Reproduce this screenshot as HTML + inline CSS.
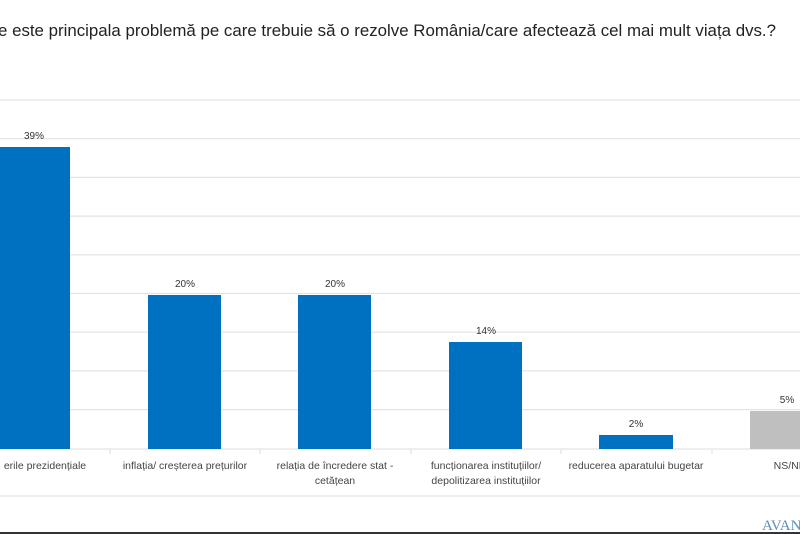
<!DOCTYPE html>
<html><head><meta charset="utf-8"><style>
html,body{margin:0;padding:0;background:#fff;}
svg{display:block;font-family:"Liberation Sans",sans-serif;}
</style></head><body>
<svg width="800" height="534" viewBox="0 0 800 534" xmlns="http://www.w3.org/2000/svg">
<rect width="800" height="534" fill="#fff"/>
<text x="-2" y="36" font-size="17" fill="#222" textLength="778" lengthAdjust="spacingAndGlyphs">e este principala problemă pe care trebuie să o rezolve România/care afectează cel mai mult viața dvs.?</text>
<g stroke="#e3e3e3" stroke-width="1.2">
<line x1="0" y1="100" x2="800" y2="100"/>
<line x1="0" y1="138.7" x2="800" y2="138.7"/>
<line x1="0" y1="177.4" x2="800" y2="177.4"/>
<line x1="0" y1="216.1" x2="800" y2="216.1"/>
<line x1="0" y1="254.8" x2="800" y2="254.8"/>
<line x1="0" y1="293.5" x2="800" y2="293.5"/>
<line x1="0" y1="332.2" x2="800" y2="332.2"/>
<line x1="0" y1="370.9" x2="800" y2="370.9"/>
<line x1="0" y1="409.6" x2="800" y2="409.6"/>
<line x1="0" y1="449" x2="800" y2="449"/>
<line x1="110" y1="449" x2="110" y2="454"/>
<line x1="260" y1="449" x2="260" y2="454"/>
<line x1="411" y1="449" x2="411" y2="454"/>
<line x1="561" y1="449" x2="561" y2="454"/>
<line x1="712" y1="449" x2="712" y2="454"/>
<line x1="0" y1="496" x2="800" y2="496"/>
</g>
<g fill="#0070c0">
<rect x="0" y="147" width="70" height="302"/>
<rect x="148" y="295" width="73" height="154"/>
<rect x="298" y="295" width="73" height="154"/>
<rect x="449" y="342" width="73" height="107"/>
<rect x="599" y="435" width="74" height="14"/>
</g>
<rect x="750" y="411" width="50" height="38" fill="#bfbfbf"/>
<g font-size="10" fill="#333" text-anchor="middle">
<text x="34" y="139">39%</text>
<text x="185" y="287">20%</text>
<text x="335" y="287">20%</text>
<text x="486" y="334">14%</text>
<text x="636" y="427">2%</text>
<text x="787" y="403">5%</text>
</g>
<g font-size="10.5" fill="#444" text-anchor="middle">
<text x="45" y="469">erile  prezidențiale</text>
<text x="185" y="469">inflația/ creșterea prețurilor</text>
<text x="335" y="469">relația de încredere stat -</text>
<text x="335" y="484">cetățean</text>
<text x="486" y="469">funcționarea instituțiilor/</text>
<text x="486" y="484">depolitizarea instituțiilor</text>
<text x="636" y="469">reducerea aparatului bugetar</text>
<text x="790" y="469">NS/NR</text>
</g>
<text x="762" y="530" font-size="15" fill="#5b8db8" font-family="Liberation Serif,serif">AVAN</text>
<rect x="0" y="532" width="800" height="2" fill="#333"/>
</svg>
</body></html>
